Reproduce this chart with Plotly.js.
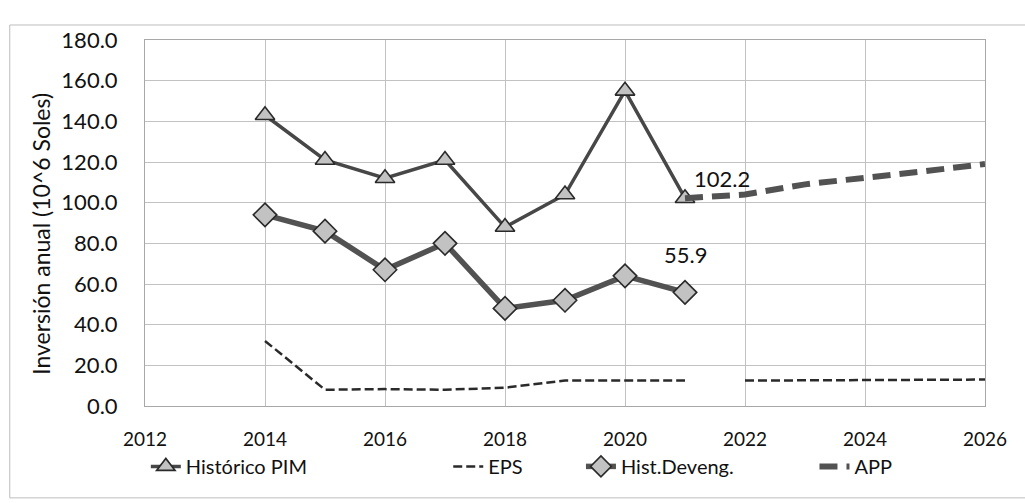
<!DOCTYPE html>
<html>
<head>
<meta charset="utf-8">
<script src="https://cdn.plot.ly/plotly-3.0.1.min.js"></script>
<style>
  html, body { margin: 0; padding: 0; background: #ffffff; }
  #chart { width: 1025px; height: 503px; }
</style>
</head>
<body>
<div id="chart"></div>
<script>
// ---- data ----
const histYears = [2014, 2015, 2016, 2017, 2018, 2019, 2020, 2021];
const historicoPIM = [143, 121, 112, 121, 88, 104, 155, 102.2];
const histDeveng = [94, 86, 67, 80, 48, 52, 64, 55.9];
const epsYearsA = [2014, 2015, 2016, 2017, 2018, 2019, 2020, 2021];
const epsValuesA = [32, 8, 8.3, 8, 9, 12.5, 12.5, 12.5];
const epsYearsB = [2022, 2023, 2024, 2025, 2026];
const epsValuesB = [12.5, 12.6, 12.8, 12.9, 13.0];
const appYears = [2021, 2022, 2023, 2024, 2025, 2026];
const appValues = [102.2, 104, 109, 112, 115.5, 119];
const xTicks = [2012, 2014, 2016, 2018, 2020, 2022, 2024, 2026];
const yTicks = [0, 20, 40, 60, 80, 100, 120, 140, 160, 180];
const seriesNames = ['Histórico PIM', 'EPS', 'Hist.Deveng.', 'APP'];
const yTitle = 'Inversión anual (10^6 Soles)';

const FONT = 'Lato, "Open Sans", sans-serif';
const TXT = '#111111';
const legFont = {family: FONT, size: 20, color: TXT};

const traces = [
  {
    x: histYears, y: historicoPIM, name: seriesNames[0], type: 'scatter', mode: 'lines+markers',
    line: {color: '#474747', width: 3.5},
    marker: {symbol: 'triangle-up', size: 17, color: '#c2c2c2', line: {color: '#2a2a2a', width: 1.6}},
    legend: 'legend'
  },
  {
    x: epsYearsA, y: epsValuesA, name: seriesNames[1], type: 'scatter', mode: 'lines',
    line: {color: '#2a2a2a', width: 2.5, dash: '9px,4px'},
    legendgroup: 'eps', legend: 'legend2'
  },
  {
    x: epsYearsB, y: epsValuesB, name: seriesNames[1], type: 'scatter', mode: 'lines',
    line: {color: '#2a2a2a', width: 2.5, dash: '9px,4px'},
    legendgroup: 'eps', showlegend: false, legend: 'legend2'
  },
  {
    x: histYears, y: histDeveng, name: seriesNames[2], type: 'scatter', mode: 'lines+markers',
    line: {color: '#525252', width: 5.5},
    marker: {symbol: 'diamond', size: 18, color: '#c2c2c2', line: {color: '#2a2a2a', width: 1.6}},
    legend: 'legend3'
  },
  {
    x: appYears, y: appValues, name: seriesNames[3], type: 'scatter', mode: 'lines',
    line: {color: '#525252', width: 6, dash: '18px,9px'},
    legend: 'legend4'
  }
];

const lastPIM = historicoPIM[historicoPIM.length - 1];
const lastDev = histDeveng[histDeveng.length - 1];

const legBase = {orientation: 'h', xanchor: 'left', y: -0.165, yanchor: 'middle', font: legFont, bgcolor: 'rgba(0,0,0,0)'};

const layout = {
  width: 1025, height: 503,
  paper_bgcolor: '#ffffff', plot_bgcolor: '#ffffff',
  margin: {l: 145, r: 40, t: 40, b: 97},
  font: {family: FONT, color: TXT},
  showlegend: true,
  xaxis: {
    range: [2012, 2026], tickvals: xTicks, ticktext: xTicks.map(String),
    showgrid: true, gridcolor: '#c2c2c2', gridwidth: 1,
    showline: true, linecolor: '#a8a8a8', mirror: true, zeroline: false,
    ticks: '', tickfont: {family: FONT, size: 19, color: TXT},
    ticklabelstandoff: 16
  },
  yaxis: {
    range: [0, 180], tickvals: yTicks, tickformat: '.1f',
    showgrid: true, gridcolor: '#c2c2c2', gridwidth: 1,
    showline: true, linecolor: '#a8a8a8', mirror: true, zeroline: false,
    ticks: '', tickfont: {family: FONT, size: 22, color: TXT},
    ticklabelstandoff: 22
  },
  legend: Object.assign({}, legBase, {x: 0.001}),
  legend2: Object.assign({}, legBase, {x: 0.361}),
  legend3: Object.assign({}, legBase, {x: 0.519}),
  legend4: Object.assign({}, legBase, {x: 0.797}),
  annotations: [
    {x: -0.124, y: 0.47, xref: 'paper', yref: 'paper', text: yTitle, textangle: -90,
     xanchor: 'center', yanchor: 'middle', showarrow: false,
     font: {family: FONT, size: 23, color: TXT}},
    {x: histYears[histYears.length - 1], y: lastPIM, xref: 'x', yref: 'y', text: lastPIM.toFixed(1),
     showarrow: false, xshift: 37, yshift: 20, font: {family: FONT, size: 22, color: TXT}},
    {x: histYears[histYears.length - 1], y: lastDev, xref: 'x', yref: 'y', text: lastDev.toFixed(1),
     showarrow: false, xshift: 0, yshift: 38, font: {family: FONT, size: 22, color: TXT}}
  ],
  shapes: [
    {type: 'rect', xref: 'paper', yref: 'paper', x0: -0.161, x1: 1.06, y0: -0.251, y1: 1.041,
     line: {color: '#bdbdbd', width: 1}, fillcolor: 'rgba(0,0,0,0)', layer: 'below'}
  ]
};

Plotly.newPlot('chart', traces, layout, {displayModeBar: false, staticPlot: true});
</script>
</body>
</html>
